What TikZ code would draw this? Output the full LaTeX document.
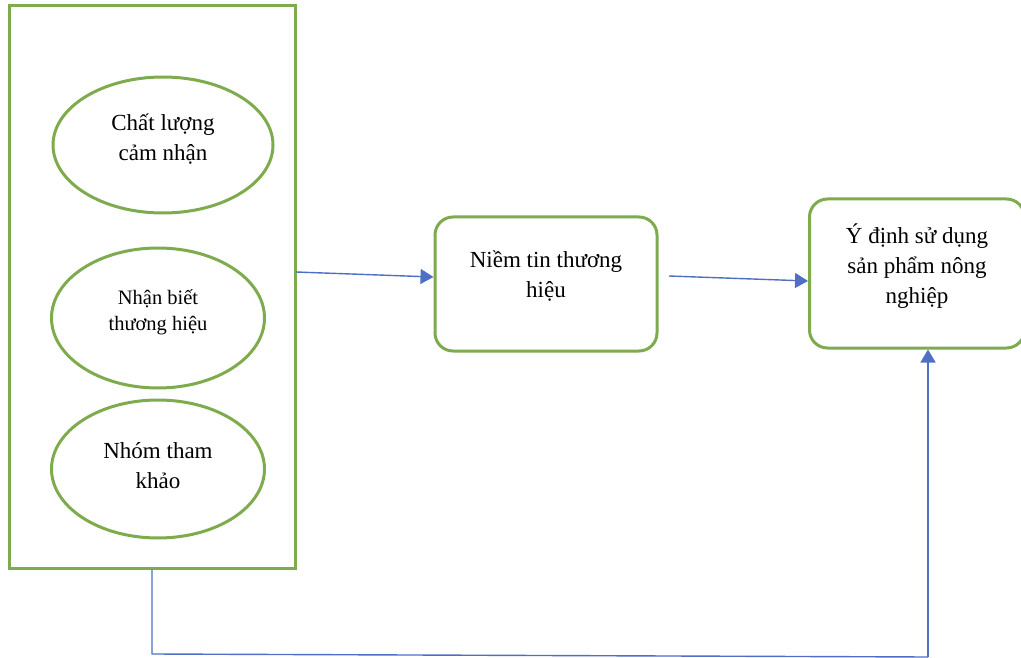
\documentclass[tikz,border=0pt]{standalone}
\usepackage{fontspec}
\setmainfont{Liberation Serif}
\usetikzlibrary{shapes.geometric,arrows.meta}
\definecolor{grn}{HTML}{7EAB4E}
\definecolor{blu}{HTML}{4F6FC6}
\tikzset{
  gline/.style={draw=grn, line width=3pt},
  ell/.style={gline, ellipse, align=center, inner sep=0pt},
  rbox/.style={gline, rounded corners=18pt, align=center},
  conn/.style={draw=blu, line width=1.4pt},
  arr/.style={conn, -{Triangle[length=13pt,width=15pt]}},
  big/.style={font=\fontsize{23}{30}\selectfont},
  small/.style={font=\fontsize{20.5}{26}\selectfont}
}
\begin{document}
\begin{tikzpicture}[x=1pt,y=-1pt]
\useasboundingbox (0,0) rectangle (1021,658);
\node[gline, minimum width=286pt, minimum height=562pt, inner sep=0pt] (outer) at (152,287) {};
\node[ell, minimum width=220pt, minimum height=136pt] (e1) at (163,145) {};
\node[big, align=center] at (163,139) {Chất lượng\\cảm nhận};
\node[ell, minimum width=213pt, minimum height=140pt] (e2) at (158,318) {};
\node[small, align=center] at (158,312) {Nhận biết\\thương hiệu};
\node[ell, minimum width=213pt, minimum height=138pt] (e3) at (158,469) {};
\node[big, align=center] at (158,466) {Nhóm tham\\khảo};
\node[rbox, minimum width=222pt, minimum height=134pt] (b1) at (546,284) {};
\node[big, align=center] at (546,276) {Niềm tin thương\\hiệu};
\node[rbox, minimum width=215pt, minimum height=149pt] (b2) at (917,273.5) {};
\node[big, align=center] at (917,266) {Ý định sử dụng\\sản phẩm nông\\nghiệp};
\coordinate (a1s) at (296,272);
\coordinate (a2s) at (669,276);
\draw[arr] (a1s) -- (b1.west |- 0,277);
\draw[arr] (a2s) -- (b2.west |- 0,281);
\coordinate (c1) at (152,654);
\coordinate (c2) at (928,657);
\draw[conn] (outer.south -| c1) -- (c1) -- (c2);
\draw[arr] (c2) -- (b2.south -| c2);
\end{tikzpicture}
\end{document}
